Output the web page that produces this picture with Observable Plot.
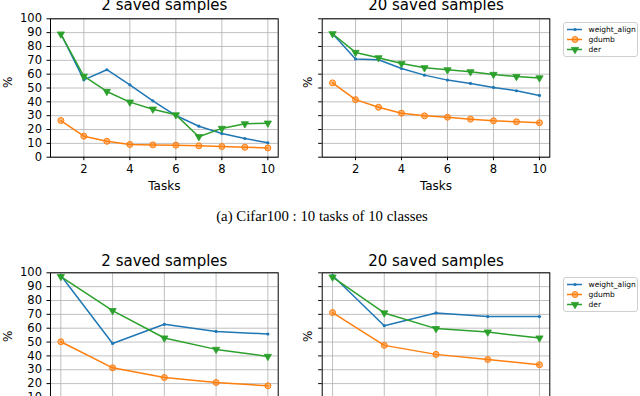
<!DOCTYPE html>
<html><head><meta charset="utf-8">
<script src="https://cdn.jsdelivr.net/npm/d3@7"></script>
<script src="https://cdn.jsdelivr.net/npm/@observablehq/plot@0.6"></script>
<style>
html,body{margin:0;padding:0;background:#fff;}
#root{position:relative;width:640px;height:396px;overflow:hidden;font-family:"DejaVu Sans";}
.legend{position:absolute;background:#fff;border:1px solid #cfcfcf;border-radius:3px;width:73px;height:33px;}
.caption{position:absolute;left:0;width:644px;text-align:center;font-family:"Liberation Serif",serif;font-size:14.8px;line-height:16px;color:#000;white-space:nowrap;}
</style></head><body><div id="root"></div>
<script>
// ---- data ----
const series = ["weight_align", "gdumb", "der"];
const colors = ["#1f77b4", "#ff7f0e", "#2ca02c"];
const tasks10 = [1, 2, 3, 4, 5, 6, 7, 8, 9, 10];
const tasks5 = [1, 2, 3, 4, 5];
const xTicks10 = [2, 4, 6, 8, 10];
const xTicks5 = [1, 2, 3, 4, 5];
const yTicks = [0, 10, 20, 30, 40, 50, 60, 70, 80, 90, 100];
const titles = ["2 saved samples", "20 saved samples"];
const xLabel = "Tasks";
const yLabel = "%";
const caption = "(a) Cifar100 : 10 tasks of 10 classes";

// top row: 10 tasks
const wa_2_t10  = [89.2, 55.9, 63.2, 52.3, 40.7, 30.1, 22.4, 17.1, 13.5, 10.4];
const gd_2_t10  = [26.5, 15.2, 11.5, 9.2, 8.9, 8.7, 8.2, 7.7, 7.2, 6.7];
const der_2_t10 = [89.0, 58.5, 47.5, 39.8, 34.7, 30.6, 14.8, 20.8, 24.1, 24.6];
const wa_20_t10  = [89.2, 71.0, 70.4, 64.1, 59.3, 55.7, 53.3, 50.4, 48.0, 44.6];
const gd_20_t10  = [53.7, 41.6, 36.1, 31.8, 29.9, 28.9, 27.5, 26.3, 25.6, 24.9];
const der_20_t10 = [89.2, 75.7, 71.8, 67.7, 64.6, 63.1, 61.7, 59.8, 58.3, 57.3];
// bottom row: 5 tasks
const wa_2_t5  = [98.1, 49.0, 62.8, 57.7, 55.8];
const gd_2_t5  = [50.2, 31.4, 24.4, 20.8, 18.4];
const der_2_t5 = [97.3, 72.7, 52.9, 44.7, 39.6];
const wa_20_t5  = [98.1, 61.8, 71.0, 68.4, 68.4];
const gd_20_t5  = [71.3, 47.6, 41.1, 37.4, 33.6];
const der_20_t5 = [96.9, 71.0, 59.7, 57.2, 52.9];

// ---- helpers ----
function tidy(tasks, arrays) {
  const rows = [];
  arrays.forEach((vals, i) => vals.forEach((v, j) => rows.push({task: tasks[j], series: series[i], value: v})));
  return rows;
}
const colorScale = {domain: series, range: colors};

function markers(data, x, y) {
  return [
    Plot.dot(data.filter(d => d.series === series[0]), {x, y, r: 1.6, fill: colors[0]}),
    Plot.dot(data.filter(d => d.series === series[1]), {x, y, r: 3, fill: colors[1], fillOpacity: 0.55, stroke: colors[1], strokeWidth: 1}),
    Plot.dot(data.filter(d => d.series === series[2]), {x, y, symbol: "triangle", rotate: 180, r: 2.7, fill: colors[2], stroke: colors[2], strokeWidth: 0.8})
  ];
}

const root = document.getElementById("root");

function panel({rows, xDomain, xTicks, title, yLabels, left, top, width, height, ml, mr, mt, mb, ylabelDx, titleDy}) {
  const chart = Plot.plot({
    width, height,
    marginLeft: ml, marginRight: mr, marginTop: mt, marginBottom: mb,
    x: {domain: xDomain},
    y: {domain: [0, 100]},
    color: colorScale,
    style: {position: "absolute", left: left + "px", top: top + "px", overflow: "visible", maxWidth: "none",
            fontFamily: "DejaVu Sans", fontSize: "11.5px", color: "#000", background: "transparent"},
    marks: [
      Plot.gridX(xTicks, {stroke: "#b0b0b0", strokeOpacity: 1, strokeWidth: 0.8}),
      Plot.gridY(yTicks, {stroke: "#b0b0b0", strokeOpacity: 1, strokeWidth: 0.8}),
      Plot.axisX(xTicks, {tickSize: 3.5, tickPadding: 4, label: null, fontSize: 11.5}),
      Plot.axisY(yTicks, {tickSize: 3.5, tickPadding: 5, label: null, fontSize: 11.5,
                          tickFormat: yLabels ? (d => d) : (() => "")}),
      Plot.line(rows, {x: "task", y: "value", stroke: "series", z: "series", strokeWidth: 1.5}),
      ...markers(rows, "task", "value"),
      Plot.frame({stroke: "#000", strokeWidth: 1}),
      Plot.text([title], {frameAnchor: "top", lineAnchor: "bottom", dy: titleDy, fontSize: 15}),
      Plot.text([xLabel], {frameAnchor: "bottom", lineAnchor: "top", dy: 24, fontSize: 12}),
      Plot.text([yLabel], {frameAnchor: "left", rotate: -90, dx: ylabelDx, fontSize: 12})
    ]
  });
  root.appendChild(chart);
}

function legend(left, top) {
  const div = document.createElement("div");
  div.className = "legend";
  div.style.left = left + "px";
  div.style.top = top + "px";
  const chart = Plot.plot({
    width: 73, height: 33, margin: 0,
    x: {domain: [0, 1], range: [3, 18], axis: null},
    y: {type: "point", domain: series, range: [6, 26], padding: 0, axis: null},
    color: colorScale,
    style: {overflow: "visible", maxWidth: "none", fontFamily: "DejaVu Sans", background: "transparent", color: "#000"},
    marks: [
      Plot.ruleY(series, {y: d => d, x1: () => 0, x2: () => 1, stroke: d => d, strokeWidth: 1.5}),
      ...markers(series.map(s => ({series: s})), () => 0.5, d => d.series),
      Plot.text(series, {y: d => d, x: () => 1, dx: 6, textAnchor: "start", fontSize: 7.5})
    ]
  });
  div.appendChild(chart);
  root.appendChild(div);
}

// top row (10 tasks)
panel({rows: tidy(tasks10, [wa_2_t10, gd_2_t10, der_2_t10]), xDomain: [0.55, 10.45], xTicks: xTicks10, title: titles[0], yLabels: true,
       left: 0, top: 0, width: 280, height: 200, ml: 50, mr: 2.3, mt: 18.3, mb: 43.3, ylabelDx: -42, titleDy: -9});
panel({rows: tidy(tasks10, [wa_20_t10, gd_20_t10, der_20_t10]), xDomain: [0.55, 10.45], xTicks: xTicks10, title: titles[1], yLabels: false,
       left: 280, top: 0, width: 280, height: 200, ml: 41.7, mr: 10.7, mt: 18.3, mb: 43.3, ylabelDx: -14, titleDy: -9});
legend(563, 22);

const cap = document.createElement("div");
cap.className = "caption";
cap.style.top = "208px";
cap.textContent = caption;
root.appendChild(cap);

// bottom row (5 tasks)
panel({rows: tidy(tasks5, [wa_2_t5, gd_2_t5, der_2_t5]), xDomain: [0.8, 5.2], xTicks: xTicks5, title: titles[0], yLabels: true,
       left: 0, top: 220, width: 280, height: 240, ml: 50, mr: 2.3, mt: 52.3, mb: 49.2, ylabelDx: -42, titleDy: -7});
panel({rows: tidy(tasks5, [wa_20_t5, gd_20_t5, der_20_t5]), xDomain: [0.8, 5.2], xTicks: xTicks5, title: titles[1], yLabels: false,
       left: 280, top: 220, width: 280, height: 240, ml: 41.7, mr: 10.7, mt: 52.3, mb: 49.2, ylabelDx: -14, titleDy: -7});
legend(563, 277);
</script></body></html>
